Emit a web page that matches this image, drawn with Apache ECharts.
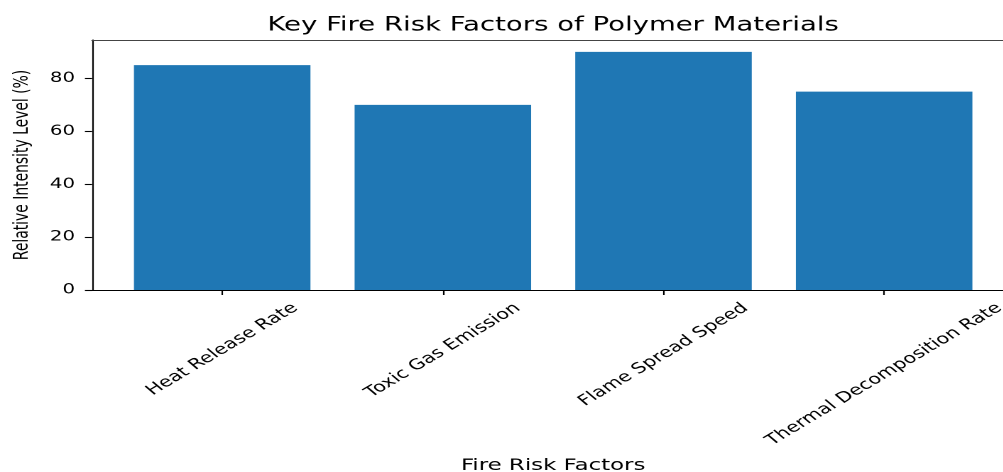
<!DOCTYPE html>
<html><head><meta charset="utf-8">
<script src="https://cdn.jsdelivr.net/npm/echarts@6/dist/echarts.min.js"></script>
<style>
html,body{margin:0;padding:0;background:#fff;overflow:hidden}
#wrap{width:1003px;height:472px;overflow:hidden;position:relative;background:#fff}
#c{width:730px;height:472px;transform:scaleX(1.42);transform-origin:0 0}
</style></head><body><div id="wrap"><div id="c"></div></div>
<script>
const titleText = 'Key Fire Risk Factors of Polymer Materials';
const categories = ['Heat Release Rate', 'Toxic Gas Emission', 'Flame Spread Speed', 'Thermal Decomposition Rate'];
const values = [85, 70, 90, 75];
const yTicks = [0, 20, 40, 60, 80];
const xName = 'Fire Risk Factors';
const yName = 'Relative Intensity Level (%)';

const FONT = 'DejaVu Sans';
const FS = 13.9;
const XFS = 14.6;
const barFrac = 0.8;
const n = categories.length;
const xMin = -barFrac / 2 - 0.05 * (n - 1 + barFrac);
const xMax = (n - 1) + barFrac / 2 + 0.05 * (n - 1 + barFrac);
const yMax = Math.max(...values) * 1.05;

const W = 730, H = 472;
const gridLeft = 64.8, gridRight = 15.7, gridTop = 40, gridBottom = 182;
const gridW = W - gridLeft - gridRight;
const barW = gridW * barFrac / (xMax - xMin);

const chart = echarts.init(document.getElementById('c'), null, {renderer: 'canvas', devicePixelRatio: 2});
const axisLineStyle = {color: '#000', width: 1.1};
chart.setOption({
  animation: false,
  backgroundColor: '#fff',
  title: {
    text: titleText,
    left: gridLeft + gridW / 2,
    textAlign: 'center',
    top: 16,
    padding: 0,
    textStyle: {fontFamily: FONT, fontSize: 19.4, fontWeight: 'normal', color: '#000'}
  },
  grid: {left: gridLeft, right: gridRight, top: gridTop, bottom: gridBottom, containLabel: false, outerBoundsMode: 'none'},
  xAxis: [{
    type: 'value', min: xMin, max: xMax, position: 'bottom',
    axisLine: {show: true, onZero: false, lineStyle: axisLineStyle},
    axisTick: {show: true, length: 5, lineStyle: axisLineStyle, customValues: categories.map((c, i) => i)},
    axisLabel: {show: false},
    splitLine: {show: false},
    name: xName, nameLocation: 'middle', nameGap: 168,
    nameTextStyle: {fontFamily: FONT, fontSize: 16.1, color: '#000'}
  }, {
    type: 'value', min: xMin, max: xMax, position: 'top',
    axisLine: {show: true, onZero: false, lineStyle: {color: '#444', width: 1.1}},
    axisTick: {show: false}, axisLabel: {show: false}, splitLine: {show: false}
  }],
  yAxis: {
    type: 'value', min: 0, max: yMax,
    axisLine: {show: true, onZero: false, lineStyle: axisLineStyle},
    axisTick: {show: true, length: 5, lineStyle: axisLineStyle, customValues: yTicks},
    axisLabel: {show: true, customValues: yTicks, margin: 12, fontFamily: FONT, fontSize: FS, color: '#000'},
    splitLine: {show: false},
    name: yName, nameLocation: 'middle', nameGap: 42,
    nameTextStyle: {fontFamily: FONT, fontSize: FS, color: '#000'}
  },
  series: [{
    type: 'bar',
    xAxisIndex: 0,
    barWidth: barW,
    itemStyle: {color: '#1f77b4'},
    data: values.map((v, i) => [i, v])
  }]
});

// rotated, centre-aligned category labels (matplotlib style)
const cv = document.createElement('canvas').getContext('2d');
cv.font = XFS + 'px "' + FONT + '"';
const ang = 40 * Math.PI / 180;
const lineH = XFS * 1.17;
const axisY = chart.convertToPixel({yAxisIndex: 0}, 0);
const labels = categories.map((c, i) => {
  const x = chart.convertToPixel({xAxisIndex: 0}, i);
  const L = cv.measureText(c).width;
  const bh = L * Math.sin(ang) + lineH * Math.cos(ang);
  return {
    type: 'text', x: x, y: axisY + 9.7 + bh / 2, rotation: ang, z: 10,
    style: {text: c, fontFamily: FONT, fontSize: XFS, fill: '#000', align: 'center', verticalAlign: 'middle'}
  };
});
chart.setOption({graphic: labels});
</script></body></html>
